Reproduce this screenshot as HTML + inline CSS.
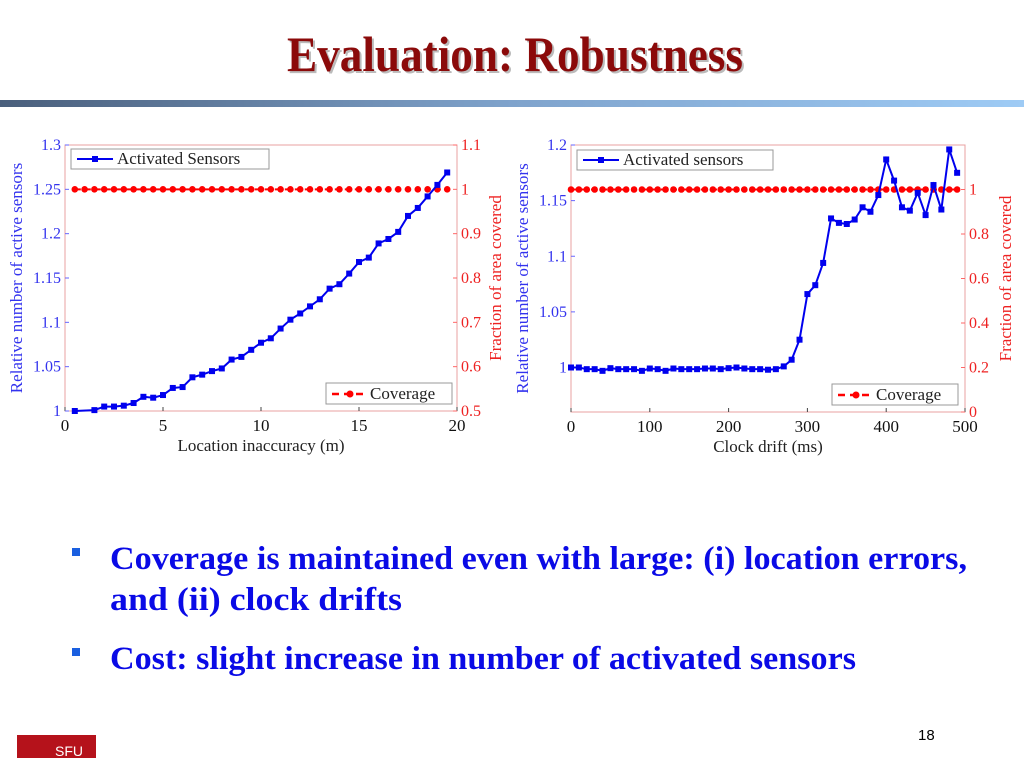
<!DOCTYPE html>
<html><head><meta charset="utf-8"><style>
html,body{margin:0;padding:0;background:#fff;}
svg{display:block;}
</style></head><body>
<svg id="s" width="1024" height="768" xmlns="http://www.w3.org/2000/svg" font-family="Liberation Serif, serif">
<defs>
<linearGradient id="g" x1="0" x2="1" y1="0" y2="0"><stop offset="0" stop-color="#4a5f7c"/><stop offset="0.5" stop-color="#7fa3cc"/><stop offset="1" stop-color="#9ecbf5"/></linearGradient>
</defs>
<text x="289" y="73" textLength="456" lengthAdjust="spacingAndGlyphs" font-size="50" font-weight="bold" fill="#bbb">Evaluation: Robustness</text>
<text x="287" y="71" textLength="456" lengthAdjust="spacingAndGlyphs" font-size="50" font-weight="bold" fill="#8b0a0a">Evaluation: Robustness</text>
<rect x="0" y="100" width="1024" height="7" fill="url(#g)"/>
<g id="c1"></g>
<g id="c2"></g>
<rect x="72" y="548" width="8" height="8" fill="#1a5fe0"/>
<text x="110" y="569" textLength="857" lengthAdjust="spacingAndGlyphs" font-size="33" font-weight="bold" fill="#0a0ae6">Coverage is maintained even with large: (i) location errors,</text>
<text x="110" y="610" textLength="292" lengthAdjust="spacingAndGlyphs" font-size="33" font-weight="bold" fill="#0a0ae6">and (ii) clock drifts</text>
<rect x="72" y="648" width="8" height="8" fill="#1a5fe0"/>
<text x="110" y="669" textLength="746" lengthAdjust="spacingAndGlyphs" font-size="33" font-weight="bold" fill="#0a0ae6">Cost: slight increase in number of activated sensors</text>
<text x="918" y="740" font-family="Liberation Sans, sans-serif" font-size="15" fill="#000">18</text>
<rect x="17" y="735" width="79" height="23" fill="#b5121b"/>
<text x="55" y="756" font-family="Liberation Sans, sans-serif" font-size="14" fill="#fff">SFU</text>
</svg>
<script>
// Chart 1 data
const locX = [0.5,1.5,2,2.5,3,3.5,4,4.5,5,5.5,6,6.5,7,7.5,8,8.5,9,9.5,10,10.5,11,11.5,12,12.5,13,13.5,14,14.5,15,15.5,16,16.5,17,17.5,18,18.5,19,19.5];
const locActive = [1.0,1.001,1.005,1.005,1.006,1.009,1.016,1.015,1.018,1.026,1.027,1.038,1.041,1.045,1.048,1.058,1.061,1.069,1.077,1.082,1.093,1.103,1.110,1.118,1.126,1.138,1.143,1.155,1.168,1.173,1.189,1.194,1.202,1.220,1.229,1.242,1.255,1.269];
const locCovX = [0.5,1,1.5,2,2.5,3,3.5,4,4.5,5,5.5,6,6.5,7,7.5,8,8.5,9,9.5,10,10.5,11,11.5,12,12.5,13,13.5,14,14.5,15,15.5,16,16.5,17,17.5,18,18.5,19,19.5];
const locCov = locCovX.map(()=>1.0);
const locXTicks = [0,5,10,15,20];
const locYTicks = ["1","1.05","1.1","1.15","1.2","1.25","1.3"];
const locY2Ticks = ["0.5","0.6","0.7","0.8","0.9","1","1.1"];
// Chart 2 data
const clkX = [0,10,20,30,40,50,60,70,80,90,100,110,120,130,140,150,160,170,180,190,200,210,220,230,240,250,260,270,280,290,300,310,320,330,340,350,360,370,380,390,400,410,420,430,440,450,460,470,480,490];
const clkActive = [1.0,1.0,0.9985,0.9985,0.997,0.9994,0.9985,0.9985,0.9985,0.997,0.9991,0.9985,0.997,0.9991,0.9985,0.9985,0.9985,0.9991,0.9991,0.9985,0.9994,1.0,0.9991,0.9985,0.9985,0.998,0.9985,1.001,1.007,1.025,1.066,1.074,1.094,1.134,1.130,1.129,1.133,1.144,1.140,1.155,1.187,1.168,1.144,1.141,1.157,1.137,1.164,1.142,1.196,1.175];
const clkCov = clkX.map(()=>1.0);
const clkXTicks = [0,100,200,300,400,500];
const clkYTicks = ["1","1.05","1.1","1.15","1.2"];
const clkY2Ticks = ["0","0.2","0.4","0.6","0.8","1"];

const NS="http://www.w3.org/2000/svg";
function mk(parent,tag,attrs){const e=document.createElementNS(NS,tag);for(const k in attrs)e.setAttribute(k,attrs[k]);parent.appendChild(e);return e;}

function chart(g,cfg){
  const {x0,x1,y0,y1,xmin,xmax,ymin,ymax,y2min,y2max}=cfg;
  const sx=v=>x0+(v-xmin)/(xmax-xmin)*(x1-x0);
  const sy=v=>y1-(v-ymin)/(ymax-ymin)*(y1-y0);
  const sy2=v=>y1-(v-y2min)/(y2max-y2min)*(y1-y0);
  const box=mk(g,'rect',{x:x0,y:y0,width:x1-x0,height:y1-y0,fill:'#fff',stroke:'#e8a0a0','stroke-width':1});
  
  
  cfg.xTicks.forEach(t=>{
    const x=sx(t);
    mk(g,'line',{x1:x,x2:x,y1:y1,y2:y1-4,stroke:'#444'});
    const tx=mk(g,'text',{x:x,y:y1+20,'text-anchor':'middle','font-size':17,fill:'#111'});
    tx.textContent=t;
    
    
  });
  cfg.yTicks.forEach(t=>{
    const y=sy(parseFloat(t));
    mk(g,'line',{x1:x0,x2:x0+4,y1:y,y2:y,stroke:'#66f'});
    const tx=mk(g,'text',{x:x0-4,y:y+5,'text-anchor':'end','font-size':16,fill:'#3333ee'});
    tx.textContent=t;
    
    
  });
  cfg.y2Ticks.forEach(t=>{
    const y=sy2(parseFloat(t));
    mk(g,'line',{x1:x1,x2:x1-4,y1:y,y2:y,stroke:'#f66'});
    const tx=mk(g,'text',{x:x1+4,y:y+5,'font-size':16,fill:'#ee2222'});
    tx.textContent=t;
    
    
  });
  const cp=cfg.covX.map((v,i)=>sx(v)+','+sy2(cfg.cov[i])).join(' ');
  const cl=mk(g,'polyline',{points:cp,fill:'none',stroke:'#ff0000','stroke-width':2,'stroke-dasharray':'6,4'});
  
  
  cfg.covX.forEach((v,i)=>{
    const c=mk(g,'circle',{cx:sx(v),cy:sy2(cfg.cov[i]),r:3.3,fill:'#ff0000'});
    
    
  });
  const ap=cfg.ax.map((v,i)=>sx(v)+','+sy(cfg.ay[i])).join(' ');
  const al=mk(g,'polyline',{points:ap,fill:'none',stroke:'#0000ee','stroke-width':2});
  
  
  cfg.ax.forEach((v,i)=>{
    const r=mk(g,'rect',{x:sx(v)-3,y:sy(cfg.ay[i])-3,width:6,height:6,fill:'#0000ee'});
    
    
  });
  const L1=cfg.leg1;
  const lg1=mk(g,'g',{});
  
  
  mk(lg1,'rect',{x:L1[0],y:L1[1],width:L1[2],height:20,fill:'#fff',stroke:'#999'});
  mk(lg1,'line',{x1:L1[0]+6,x2:L1[0]+42,y1:L1[1]+10,y2:L1[1]+10,stroke:'#0000ee','stroke-width':2});
  mk(lg1,'rect',{x:L1[0]+21,y:L1[1]+7,width:6,height:6,fill:'#0000ee'});
  const t1=mk(lg1,'text',{x:L1[0]+46,y:L1[1]+15,'font-size':17,fill:'#222'});t1.textContent=cfg.leg1Text;
  const L2=cfg.leg2;
  const lg2=mk(g,'g',{});
  
  
  mk(lg2,'rect',{x:L2[0],y:L2[1],width:L2[2],height:21,fill:'#fff',stroke:'#999'});
  mk(lg2,'line',{x1:L2[0]+6,x2:L2[0]+42,y1:L2[1]+11,y2:L2[1]+11,stroke:'#ff0000','stroke-width':2.5,'stroke-dasharray':'7,5'});
  mk(lg2,'circle',{cx:L2[0]+24,cy:L2[1]+11,r:3.5,fill:'#ff0000'});
  const t2=mk(lg2,'text',{x:L2[0]+44,y:L2[1]+16,'font-size':17,fill:'#222'});t2.textContent='Coverage';
  const xt=mk(g,'text',{x:(x0+x1)/2,y:y1+40,'text-anchor':'middle','font-size':17,fill:'#222'});
  xt.textContent=cfg.xTitle;
  
  
  const cy=(y0+y1)/2;
  const yt=mk(g,'text',{x:cfg.yTitleX,y:cy,'text-anchor':'middle','font-size':17,fill:'#3333ee',transform:`rotate(-90 ${cfg.yTitleX} ${cy})`});
  yt.textContent='Relative number of active sensors';
  
  
  const y2t=mk(g,'text',{x:cfg.y2TitleX,y:cy,'text-anchor':'middle','font-size':17,fill:'#ee2222',transform:`rotate(-90 ${cfg.y2TitleX} ${cy})`});
  y2t.textContent='Fraction of area covered';
  
  
}
chart(document.getElementById('c1'),{x0:65,x1:457,y0:145,y1:411,xmin:0,xmax:20,ymin:1,ymax:1.3,y2min:0.5,y2max:1.1,
  xTicks:locXTicks,yTicks:locYTicks,y2Ticks:locY2Ticks,covX:locCovX,cov:locCov,ax:locX,ay:locActive,
  leg1:[71,149,198],leg1Text:'Activated Sensors',leg2:[326,383,126],xTitle:'Location inaccuracy (m)',yTitleX:22,y2TitleX:501});
chart(document.getElementById('c2'),{x0:571,x1:965,y0:145,y1:412,xmin:0,xmax:500,ymin:0.96,ymax:1.2,y2min:0,y2max:1.2,
  xTicks:clkXTicks,yTicks:clkYTicks,y2Ticks:clkY2Ticks,covX:clkX,cov:clkCov,ax:clkX,ay:clkActive,
  leg1:[577,150,196],leg1Text:'Activated sensors',leg2:[832,384,126],xTitle:'Clock drift (ms)',yTitleX:528,y2TitleX:1011});
</script>
</body></html>
